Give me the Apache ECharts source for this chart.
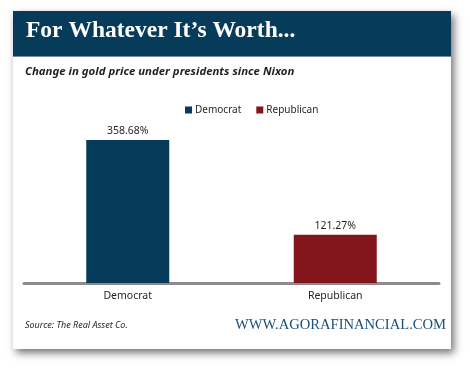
<!DOCTYPE html>
<html><head><meta charset="utf-8">
<script src="https://cdn.jsdelivr.net/npm/echarts@6/dist/echarts.min.js"></script>
<style>html,body{margin:0;padding:0;background:#fff}#c{width:470px;height:369px}</style>
</head><body><div id="c"></div>
<script>
const categories = ['Democrat', 'Republican'];
const values = [358.68, 121.27];
const valueLabels = ['358.68%', '121.27%'];
const barColors = ['#073b5a', '#83161c'];
const titleText = 'For Whatever It\u2019s Worth...';
const subtitleText = 'Change in gold price under presidents since Nixon';
const sourceText = 'Source: The Real Asset Co.';
const siteText = 'WWW.AGORAFINANCIAL.COM';

const chart = echarts.init(document.getElementById('c'), null, {renderer: 'canvas'});
chart.setOption({
  animation: false,
  backgroundColor: '#ffffff',
  graphic: [
    {type: 'rect', z: -10, shape: {x: 13, y: 11, width: 438, height: 338},
     style: {fill: '#fff', shadowBlur: 8, shadowOffsetX: 3, shadowOffsetY: 4, shadowColor: 'rgba(0,0,0,0.55)'}},
    {type: 'rect', z: -9, shape: {x: 13, y: 11, width: 438, height: 45}, style: {fill: '#073b5a'}},
    {type: 'rect', z: -9, shape: {x: 13, y: 56, width: 438, height: 1}, style: {fill: '#6f8fa6'}},
    {type: 'text', left: 26, top: 19, style: {text: titleText, fill: '#fff', font: 'bold 23.5px "Liberation Serif"',
      shadowColor: '#000', shadowOffsetX: 2, shadowOffsetY: 2, shadowBlur: 1}},
    {type: 'text', left: 25, top: 66, style: {text: subtitleText, fill: '#231f20', font: 'italic bold 11.4px "Noto Sans"'}},
    {type: 'text', left: 25, top: 321, style: {text: sourceText, fill: '#231f20', font: 'italic 9px "Noto Sans"'}},
    {type: 'text', left: 235, top: 318, style: {text: siteText, fill: '#1c4f79', font: '14.6px "Liberation Serif"'}}
  ],
  legend: {
    top: 100, left: 180, itemWidth: 7, itemHeight: 7, itemGap: 15, icon: 'rect',
    textStyle: {fontFamily: 'Noto Sans', fontSize: 10, color: '#231f20', padding: [0, 0, 0, -2]},
    data: categories
  },
  grid: {left: 24, right: 31, top: 123.5, bottom: 86},
  xAxis: {
    type: 'category', data: categories,
    axisLine: {lineStyle: {color: '#8c8c8c', width: 3}},
    axisTick: {show: false},
    axisLabel: {fontFamily: 'Noto Sans', fontSize: 10.5, color: '#231f20', margin: 8}
  },
  yAxis: {type: 'value', min: 0, max: 400, show: false, splitLine: {show: false}},
  series: categories.map((c, i) => ({
    name: c, type: 'bar', stack: 'a', barWidth: 83,
    itemStyle: {color: barColors[i]},
    data: categories.map((_, j) => j === i ? values[i] : null),
    label: {show: true, position: 'top', distance: 3, formatter: () => valueLabels[i],
      fontFamily: 'Noto Sans', fontSize: 10.5, color: '#231f20'}
  })),
  color: barColors
});
</script></body></html>
